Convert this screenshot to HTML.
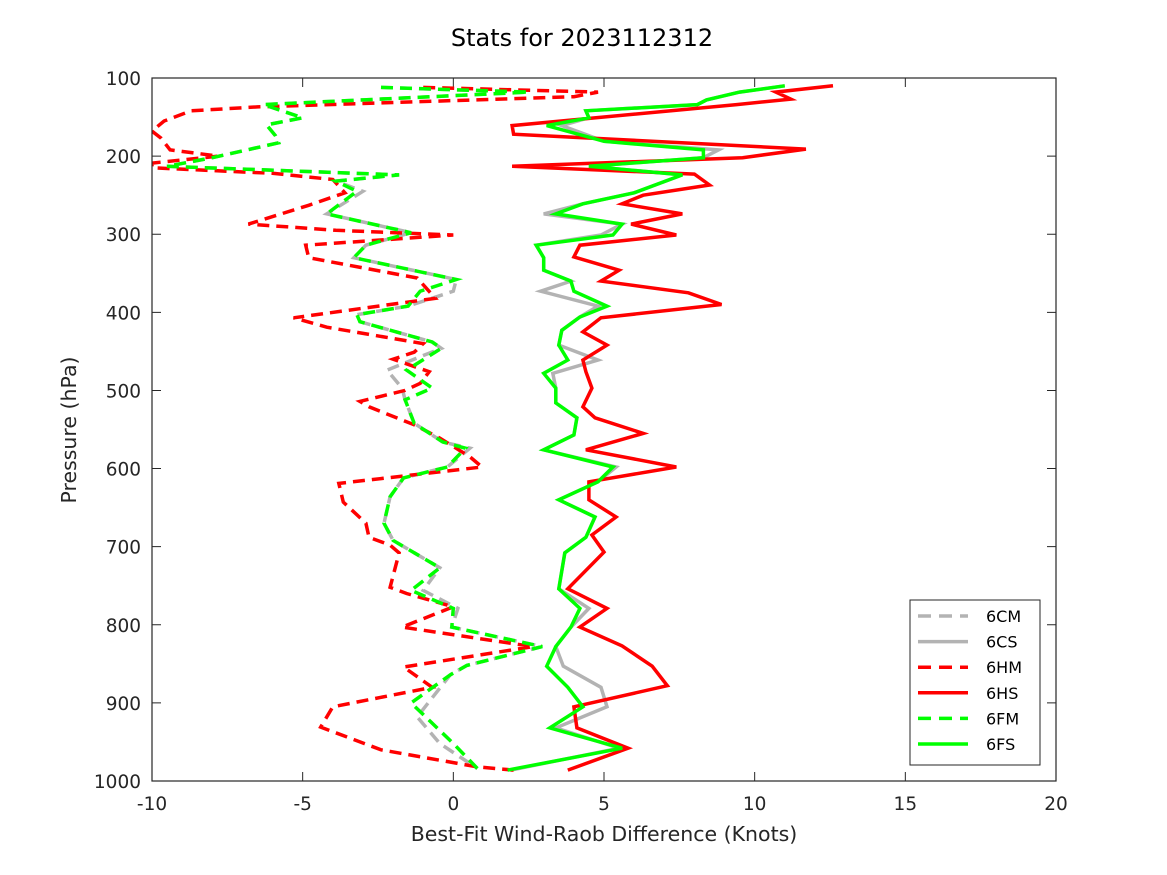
<!DOCTYPE html>
<html><head><meta charset="utf-8"><style>
body{margin:0;background:#fff;}
svg{display:block;font-family:"DejaVu Sans","Liberation Sans",sans-serif;}
</style></head><body>
<svg id="chart" width="1167" height="875" viewBox="0 0 1167 875" xmlns="http://www.w3.org/2000/svg">
<defs><clipPath id="plotclip"><rect x="152" y="78" width="904" height="703"/></clipPath></defs>
<rect x="0" y="0" width="1167" height="875" fill="#fff"/>
<text x="582" y="46" text-anchor="middle" font-size="24" fill="#000">Stats for 2023112312</text>
<g id="axes"></g>
<g id="series" clip-path="url(#plotclip)"></g>
<rect x="152" y="78" width="904" height="703" fill="none" stroke="#262626" stroke-width="1.2"/>
<text x="604" y="841" text-anchor="middle" font-size="20.5" fill="#262626">Best-Fit Wind-Raob Difference (Knots)</text>
<text transform="translate(76,430) rotate(-90)" text-anchor="middle" font-size="20.5" fill="#262626">Pressure (hPa)</text>
<g id="legend"></g>
</svg>
<script>
const xTicks=[-10,-5,0,5,10,15,20];
const yTicks=[100,200,300,400,500,600,700,800,900,1000];
const CM_p=[112,118,134,151,160,174,183,202,213,224,232,245,274,298,314,330,358,373,392,403,412,438,446,474,497,512,542,566,574,598,612,636,670,692,727,756,779,803,828,852,864,918,952,984];
const CM_x=[-2.4,2.5,-6.3,-5.0,-6.2,-5.9,-5.8,-8.0,-9.5,-1.8,-3.9,-3.0,-4.2,-1.4,-2.9,-3.3,0.1,0.0,-1.5,-3.2,-3.1,-0.7,-0.4,-2.2,-1.7,-1.6,-1.3,-0.35,0.55,-0.2,-1.65,-2.1,-2.3,-2.0,-0.45,-1.0,0.15,-0.05,2.95,0.45,-0.1,-1.2,-0.45,0.8];
const CS_p=[110,118,128,134,142,151,161,181,192,202,213,224,247,261,274,287,301,314,330,346,360,373,392,406,423,442,461,478,497,516,535,557,576,598,617,640,662,688,708,754,779,803,828,853,880,905,932,958,986];
const CS_x=[11.0,9.5,8.4,8.1,4.4,4.5,3.6,5.0,8.8,8.3,4.5,7.6,6.0,4.3,3.0,5.6,4.9,2.75,3.0,3.0,3.9,2.9,4.8,4.2,3.6,3.5,4.8,3.3,3.4,3.4,4.1,4.0,3.0,5.4,4.8,3.5,4.7,4.4,3.7,3.5,4.5,3.9,3.4,3.65,4.9,5.1,3.4,5.5,1.9];
const HM_p=[112,118,124,137,142,155,168,177,192,200,209,215,222,230,247,263,287,295,301,314,330,356,382,407,419,440,451,460,476,491,500,514,521,544,561,585,598,619,643,670,688,698,708,752,760,777,803,828,854,880,905,931,960,982,986];
const HM_x=[-1.0,4.8,4.0,-6.5,-8.7,-9.6,-10,-9.7,-9.4,-7.8,-10,-10,-6.0,-4.0,-3.6,-4.8,-6.8,-3.9,0,-4.9,-4.8,-1.2,-0.6,-5.3,-4.2,-1.0,-1.3,-2.0,-0.8,-1.1,-1.6,-3.1,-2.8,-1.3,-0.45,0.55,0.95,-3.8,-3.65,-2.9,-2.8,-2.1,-1.8,-2.1,-1.55,0.0,-1.7,2.65,-1.65,-0.7,-4.0,-4.4,-2.4,0.8,2.0];
const HS_p=[110,118,127,134,161,172,191,202,213,223,237,250,261,274,287,301,314,329,346,360,375,390,407,425,442,461,476,497,521,535,555,576,598,617,640,662,685,707,754,779,803,827,853,878,905,932,958,986];
const HS_x=[12.6,10.7,11.2,9.4,1.95,2.0,11.7,9.6,1.95,8.0,8.5,6.3,5.6,7.6,5.9,7.4,4.2,4.0,5.5,4.9,7.8,8.9,4.9,4.3,5.1,4.3,4.4,4.6,4.3,4.7,6.3,4.4,7.4,4.5,4.5,5.4,4.6,5.0,3.8,5.1,4.2,5.6,6.6,7.1,4.0,4.1,5.8,3.8];
const FM_p=[112,118,134,151,160,174,183,202,213,224,232,245,274,298,314,330,358,373,392,403,412,438,446,474,497,512,542,566,574,598,612,636,670,692,727,756,779,803,828,852,864,900,952,984];
const FM_x=[-2.4,2.5,-6.3,-5.0,-6.2,-5.9,-5.8,-8.0,-9.5,-1.8,-3.9,-3.2,-4.2,-1.4,-2.9,-3.3,0.1,-1.1,-1.5,-3.2,-3.1,-0.7,-0.4,-1.55,-0.7,-1.6,-1.3,-0.35,0.4,-0.2,-1.65,-2.1,-2.3,-2.0,-0.45,-1.4,0.0,-0.05,2.95,0.45,-0.1,-1.4,0.0,0.8];
const FS_p=[110,118,128,134,142,151,161,181,192,202,213,224,247,261,274,287,301,314,330,346,360,373,392,406,423,442,461,478,497,516,535,557,576,598,617,640,662,688,708,754,779,803,828,853,880,905,932,958,986];
const FS_x=[11.0,9.5,8.4,8.1,4.4,4.5,3.1,5.0,8.3,8.3,4.5,7.6,6.0,4.3,3.4,5.6,5.3,2.75,3.0,3.0,3.9,4.0,5.1,4.2,3.6,3.5,3.8,3.0,3.4,3.4,4.1,4.0,3.0,5.3,4.8,3.5,4.7,4.4,3.7,3.5,4.2,3.9,3.4,3.1,3.8,4.3,3.2,5.6,1.8];
const seriesNames=["6CM","6CS","6HM","6HS","6FM","6FS"];

const NS="http://www.w3.org/2000/svg";
const X0=152,X1=1056,Y0=78,Y1=781;
function xs(v){return X0+(v+10)/30*(X1-X0);}
function ys(p){return Y0+(p-100)/900*(Y1-Y0);}
const axes=document.getElementById('axes');
xTicks.forEach(t=>{
  const x=xs(t);
  const l=document.createElementNS(NS,'path');
  l.setAttribute('d',`M${x},${Y1}V${Y1-9}M${x},${Y0}V${Y0+9}`);
  l.setAttribute('stroke','#262626');l.setAttribute('stroke-width','1');
  
  
  axes.appendChild(l);
  const tx=document.createElementNS(NS,'text');
  tx.setAttribute('x',x);tx.setAttribute('y',810);tx.setAttribute('text-anchor','middle');
  tx.setAttribute('font-size','18.5');tx.setAttribute('fill','#262626');
  tx.textContent=t;
  
  
  axes.appendChild(tx);
});
yTicks.forEach(t=>{
  const y=ys(t);
  const l=document.createElementNS(NS,'path');
  l.setAttribute('d',`M${X0},${y}H${X0+9}M${X1},${y}H${X1-9}`);
  l.setAttribute('stroke','#262626');l.setAttribute('stroke-width','1');
  
  
  axes.appendChild(l);
  const tx=document.createElementNS(NS,'text');
  tx.setAttribute('x',141);tx.setAttribute('y',y+7);tx.setAttribute('text-anchor','end');
  tx.setAttribute('font-size','18.5');tx.setAttribute('fill','#262626');
  tx.textContent=t;
  
  
  axes.appendChild(tx);
});
const styles=[
 {p:CM_p,x:CM_x,c:'#b3b3b3',d:'12,7'},
 {p:CS_p,x:CS_x,c:'#b3b3b3',d:''},
 {p:HM_p,x:HM_x,c:'#ff0000',d:'12,7'},
 {p:HS_p,x:HS_x,c:'#ff0000',d:''},
 {p:FM_p,x:FM_x,c:'#00ff00',d:'12,7'},
 {p:FS_p,x:FS_x,c:'#00ff00',d:''}];
const sg=document.getElementById('series');
styles.forEach((s,i)=>{
  const pts=s.p.map((p,k)=>xs(s.x[k]).toFixed(1)+','+ys(p).toFixed(1)).join(' ');
  const pl=document.createElementNS(NS,'polyline');
  pl.setAttribute('points',pts);pl.setAttribute('fill','none');
  pl.setAttribute('stroke',s.c);pl.setAttribute('stroke-width','3.5');
  if(s.d)pl.setAttribute('stroke-dasharray',s.d);
  
  
  sg.appendChild(pl);
});
const lg=document.getElementById('legend');
const box=document.createElementNS(NS,'rect');
box.setAttribute('x',910);box.setAttribute('y',600);box.setAttribute('width',130);box.setAttribute('height',165);
box.setAttribute('fill','#fff');box.setAttribute('stroke','#262626');box.setAttribute('stroke-width','1');


lg.appendChild(box);
styles.forEach((s,i)=>{
  const y=616+i*25.6;
  const l=document.createElementNS(NS,'line');
  l.setAttribute('x1',918);l.setAttribute('x2',968);l.setAttribute('y1',y);l.setAttribute('y2',y);
  l.setAttribute('stroke',s.c);l.setAttribute('stroke-width','3.5');
  if(s.d)l.setAttribute('stroke-dasharray','13,8');
  
  
  lg.appendChild(l);
  const t=document.createElementNS(NS,'text');
  t.setAttribute('x',986);t.setAttribute('y',y+6);t.setAttribute('font-size','16');t.setAttribute('fill','#000');
  t.textContent=seriesNames[i];
  
  
  lg.appendChild(t);
});
</script>
</body></html>
